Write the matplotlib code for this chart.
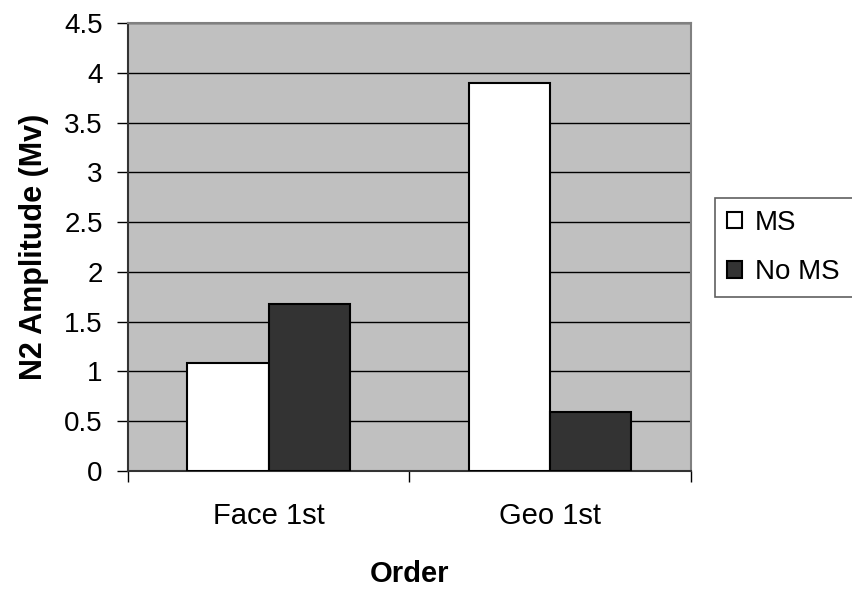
import matplotlib.pyplot as plt
from matplotlib.patches import Rectangle
import numpy as np

# data
categories = ['Face 1st', 'Geo 1st']
ms_values = [1.09, 3.9]
no_ms_values = [1.68, 0.59]
series_names = ['MS', 'No MS']
y_ticks = [0, 0.5, 1, 1.5, 2, 2.5, 3, 3.5, 4, 4.5]
y_tick_labels = ['0', '0.5', '1', '1.5', '2', '2.5', '3', '3.5', '4', '4.5']

plt.rcParams['font.family'] = ['Liberation Sans', 'DejaVu Sans']

fig = plt.figure(figsize=(8.52, 5.91), dpi=100)
ax = fig.add_axes([0.150, 0.203, 0.661, 0.758])
ax.set_facecolor('#c0c0c0')

x = np.arange(len(categories))
w = 0.288
ax.bar(x - w / 2, ms_values, w, color='white', edgecolor='black', linewidth=1.5, label=series_names[0], zorder=3)
ax.bar(x + w / 2, no_ms_values, w, color='#333333', edgecolor='black', linewidth=1.5, label=series_names[1], zorder=3)

# y axis
ax.set_ylim(0, 4.5)
ax.set_yticks(y_ticks)
ax.set_yticklabels(y_tick_labels)
ax.yaxis.grid(True, color='black', linewidth=1.0, zorder=0)
ax.set_axisbelow(True)

# x axis: ticks on category boundaries, labels at centres
ax.set_xlim(-0.5, len(categories) - 0.5)
ax.set_xticks(np.arange(-0.5, len(categories), 1.0))
ax.set_xticklabels([])
ax.set_xticks(x, minor=True)
ax.set_xticklabels(categories, minor=True)
ax.tick_params(axis='both', which='major', length=8, width=1, colors='black', labelsize=20, direction='out')
ax.tick_params(axis='y', which='major', pad=10)
ax.tick_params(axis='x', which='minor', length=0, pad=22, labelsize=21)

for s in ['top', 'right']:
    ax.spines[s].set_color('#808080')
    ax.spines[s].set_linewidth(1.5)
for s in ['left', 'bottom']:
    ax.spines[s].set_color('#333333')
    ax.spines[s].set_linewidth(1.5)

ax.set_ylabel('N2 Amplitude (Mv)', fontsize=22, fontweight='bold', labelpad=11)
ax.set_xlabel('Order', fontsize=21, fontweight='bold', labelpad=22)

# legend, box runs off the right edge like the original
fig.add_artist(Rectangle((715 / 852, 1 - 297 / 591), 150 / 852, 99 / 591,
                         transform=fig.transFigure, facecolor='white',
                         edgecolor='#606060', linewidth=1.2, clip_on=False))
fig.legend(loc='upper left', bbox_to_anchor=(0.853, 0.645), fontsize=20,
           frameon=False, handlelength=0.55, handleheight=0.55,
           handletextpad=0.45, borderpad=0, borderaxespad=0, labelspacing=0.85)

fig.savefig('out.png', dpi=100)
